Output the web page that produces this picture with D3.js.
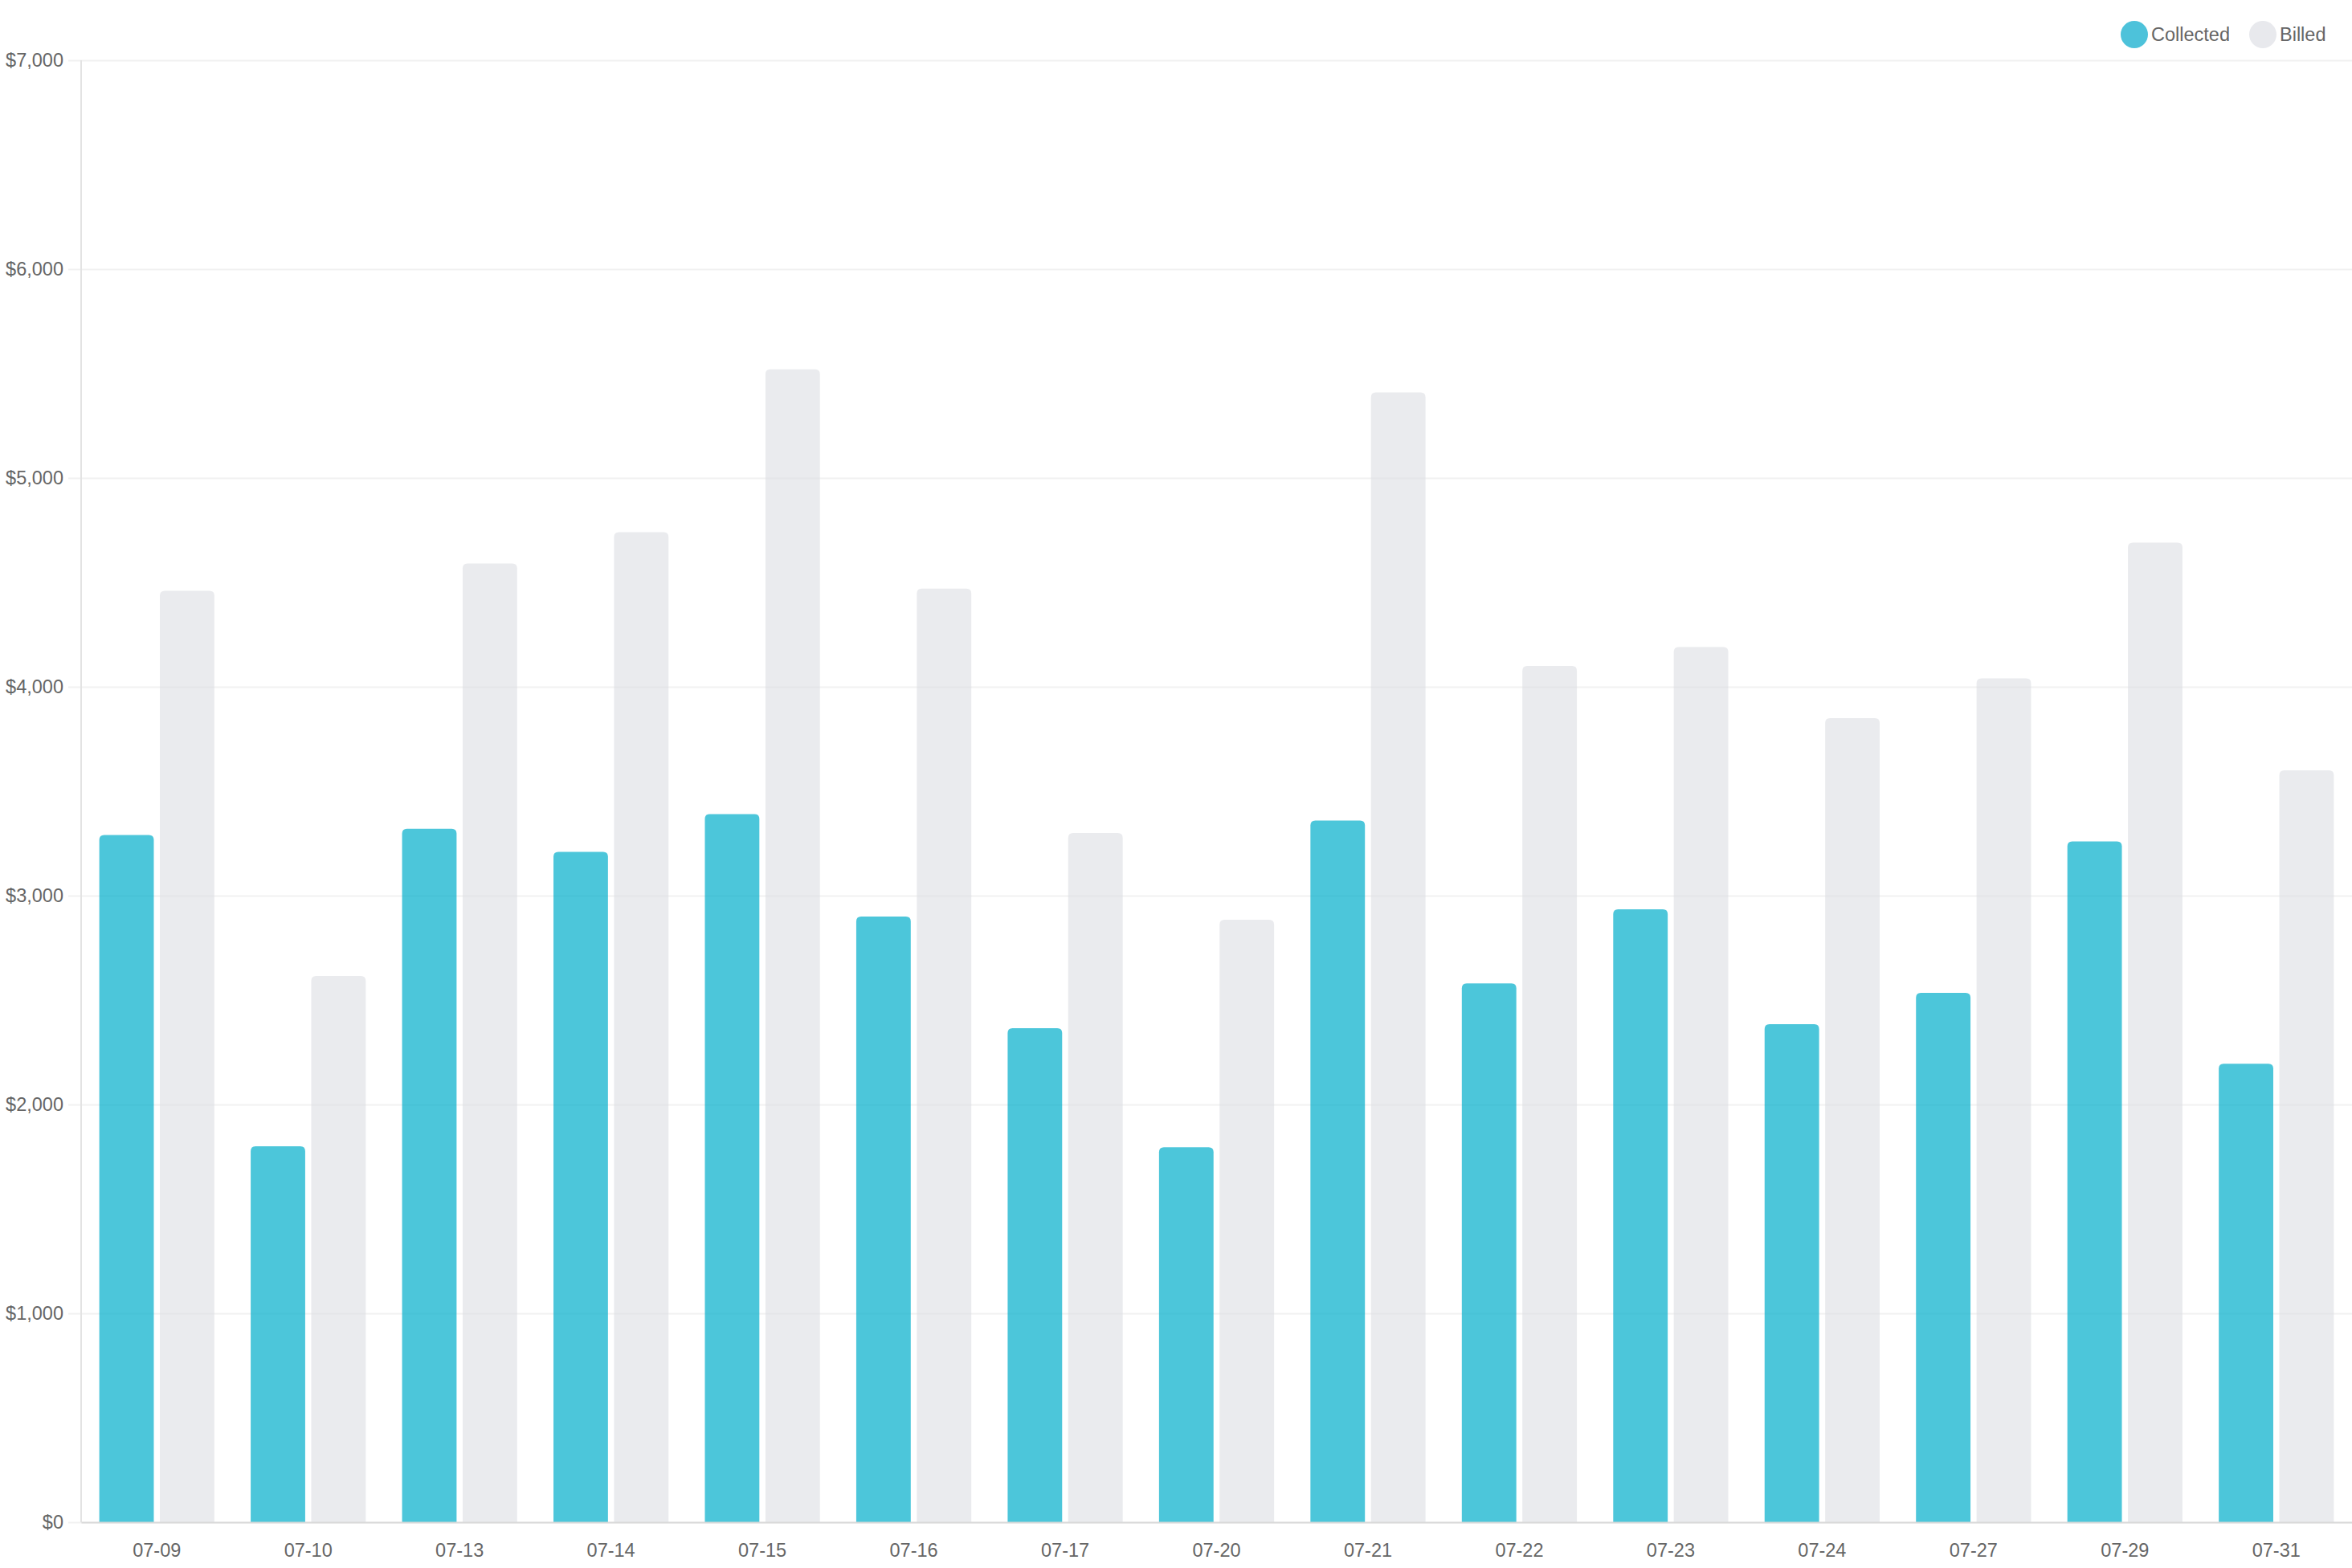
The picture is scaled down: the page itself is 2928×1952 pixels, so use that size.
<!DOCTYPE html>
<html>
<head>
<meta charset="utf-8">
<script src="https://cdn.jsdelivr.net/npm/d3@7"></script>
<style>
  html, body { margin: 0; padding: 0; background: #fff; }
  svg { display: block; font-family: "Liberation Sans", Arial, sans-serif; }
</style>
</head>
<body>
<div id="chart"></div>
<script>
// data
const days = ["07-09", "07-10", "07-13", "07-14", "07-15", "07-16", "07-17", "07-20",
              "07-21", "07-22", "07-23", "07-24", "07-27", "07-29", "07-31"];
const collected = [3290, 1800, 3320, 3210, 3390, 2900, 2365, 1795, 3360, 2580, 2935, 2385, 2535, 3260, 2195];
const billed    = [4460, 2615, 4590, 4740, 5520, 4470, 3300, 2885, 5410, 4100, 4190, 3850, 4040, 4690, 3600];
const seriesNames = ["Collected", "Billed"];
const yTicks = [0, 1000, 2000, 3000, 4000, 5000, 6000, 7000];

const W = 2928, H = 1952;
const plotLeft = 101, plotRight = W, plotTop = 75, plotBottom = 1895;
const colors = { Collected: "#00aecb", Billed: "#dcdde3" };
const opac = { Collected: 0.7, Billed: 0.6 };
const legendFill = { Collected: "#4dc2da", Billed: "#e8e9ed" };

const rows = days.map((d, i) => ({ day: d, Collected: collected[i], Billed: billed[i] }));

const svg = d3.select("#chart").append("svg")
    .attr("width", W)
    .attr("height", H);

const x0 = d3.scaleBand()
    .domain(days)
    .range([plotLeft, plotRight])
    .paddingInner(0.2)
    .paddingOuter(0.1);

const x1 = d3.scaleBand()
    .domain(seriesNames)
    .range([0, x0.bandwidth()])
    .paddingInner(0.1)
    .paddingOuter(0.05);

const y = d3.scaleLinear()
    .domain([0, 7000])
    .range([plotBottom, plotTop]);

// gridlines + y labels
const yAxis = d3.axisLeft(y)
    .tickValues(yTicks)
    .tickSize(-(plotRight - plotLeft + 16))
    .tickPadding(6)
    .tickFormat(d => "$" + d3.format(",")(d));

svg.append("g")
    .attr("transform", "translate(" + (plotLeft - 16) + ",0)")
    .call(yAxis)
    .call(g => g.select(".domain").remove())
    .call(g => g.selectAll(".tick line").attr("stroke", "#f1f1f1").attr("stroke-width", 2))
    .call(g => g.selectAll(".tick text")
        .attr("fill", "#666")
        .style("font-size", "23.5px"));

// y axis line
svg.append("line")
    .attr("x1", plotLeft).attr("x2", plotLeft)
    .attr("y1", plotTop).attr("y2", plotBottom)
    .attr("stroke", "#e3e3e3")
    .attr("stroke-width", 2);

// bars with rounded tops
function topRounded(x, yTop, w, h, r) {
    r = Math.min(r, h, w / 2);
    return "M" + x + "," + (yTop + h) +
        "V" + (yTop + r) +
        "Q" + x + "," + yTop + " " + (x + r) + "," + yTop +
        "H" + (x + w - r) +
        "Q" + (x + w) + "," + yTop + " " + (x + w) + "," + (yTop + r) +
        "V" + (yTop + h) + "Z";
}

const groups = svg.append("g")
    .selectAll("g")
    .data(rows)
    .join("g")
    .attr("transform", d => "translate(" + x0(d.day) + ",0)");

groups.selectAll("path")
    .data(d => seriesNames.map(k => ({ key: k, value: d[k] })))
    .join("path")
    .attr("d", d => topRounded(x1(d.key), y(d.value), x1.bandwidth(), y(0) - y(d.value), 6))
    .attr("fill", d => colors[d.key])
    .attr("fill-opacity", d => opac[d.key]);

// x axis
const xAxis = d3.axisBottom(x0).tickSize(0).tickPadding(26);
svg.append("g")
    .attr("transform", "translate(0," + plotBottom + ")")
    .call(xAxis)
    .call(g => g.select(".domain").attr("stroke", "#d9d9d9").attr("stroke-width", 2))
    .call(g => g.selectAll(".tick text")
        .attr("fill", "#666")
        .style("font-size", "23.5px"));

// legend
const legendX = [2657, 2817];
const legend = svg.append("g")
    .selectAll("g")
    .data(seriesNames)
    .join("g")
    .attr("transform", (d, i) => "translate(" + legendX[i] + ",43)");

legend.append("circle")
    .attr("r", 17)
    .attr("fill", d => legendFill[d]);

legend.append("text")
    .attr("x", 21)
    .attr("dy", "0.35em")
    .attr("fill", "#666")
    .style("font-size", "23.5px")
    .text(d => d);
</script>
</body>
</html>
